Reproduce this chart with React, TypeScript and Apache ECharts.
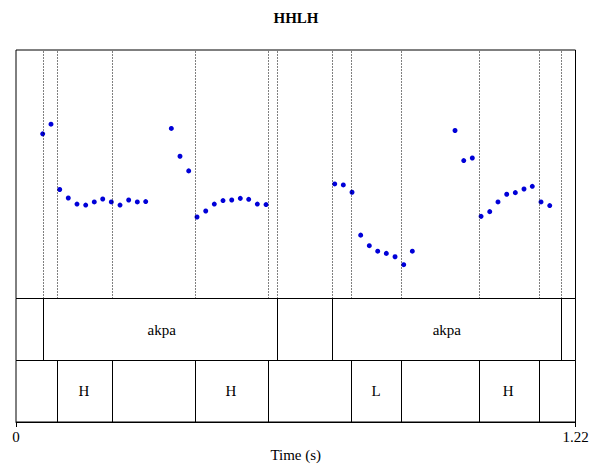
import React, { useEffect, useRef } from "react";
import * as echarts from "echarts";

const chartTitle = "HHLH";
const xMin = 0;
const xMax = 1.22;
const xAxisName = "Time (s)";
const tickValues = [0, 1.22];

const pitchTimes = [
  0.0582, 0.0763, 0.0953, 0.114, 0.133, 0.152, 0.1707, 0.1891, 0.2078, 0.2268, 0.2457, 0.2645, 0.2828,
  0.3387, 0.3576, 0.3766, 0.3947, 0.4137, 0.4324, 0.4514, 0.4704, 0.4891, 0.5074, 0.5262, 0.5452,
  0.695, 0.7137, 0.7327, 0.7516, 0.7704, 0.7887, 0.8075, 0.8265, 0.8454, 0.8642,
  0.9573, 0.9763, 0.995, 1.0141, 1.033, 1.051, 1.07, 1.0888, 1.1077, 1.1258, 1.1448, 1.1638,
];
const pitchHz = [
  232.5, 240.3, 187.7, 180.9, 176.0, 175.2, 177.7, 180.1, 177.7, 175.2, 179.3, 177.7, 178.0,
  236.9, 214.5, 202.7, 165.6, 170.4, 176.0, 178.8, 179.3, 180.6, 179.8, 176.0, 175.6,
  192.2, 191.4, 185.5, 151.0, 142.5, 138.1, 136.3, 133.6, 127.2, 138.1,
  235.2, 211.0, 213.1, 166.1, 169.9, 177.7, 183.9, 185.2, 188.1, 190.3, 177.7, 174.8,
];
const pitchMin = 100;
const pitchMax = 300;

const wordBounds = [0, 0.064, 0.5715, 0.6917, 1.187, 1.22];
const wordLabels = ["", "akpa", "", "akpa", ""];
const toneBounds = [0, 0.0903, 0.2063, 0.3914, 0.546, 0.7329, 0.8373, 1.0052, 1.1408, 1.22];
const toneLabels = ["", "H", "", "H", "", "L", "", "H", ""];

export default function App() {
  const ref = useRef<HTMLDivElement>(null);
  useEffect(() => {
    const chart = echarts.init(ref.current!, null, { renderer: "svg" });
    const font = "'Liberation Serif', 'Times New Roman', serif";
    const inner = (b: number[]) => b.slice(1, -1);
    const allBounds = Array.from(new Set([...inner(wordBounds), ...inner(toneBounds)])).sort((a, b) => a - b);
    const centers = (b: number[], labels: string[]) =>
      labels
        .map((l, i) => [(b[i] + b[i + 1]) / 2, 0.5, l])
        .filter((d) => d[2] !== "");
    const L = 16;
    const R = 16.5;
    const grid = [
      { left: L, right: R, top: 50, height: 248.5 },
      { left: L, right: R, top: 298.5, height: 62 },
      { left: L, right: R, top: 360.5, height: 61.5 },
    ].map((g) => ({ ...g, show: true, borderColor: "#000", borderWidth: 1, backgroundColor: "transparent" }));

    const xAxis = [0, 1, 2].map((i) => ({
      gridIndex: i,
      type: "value",
      min: xMin,
      max: xMax,
      show: i === 2,
      splitLine: { show: false },
      axisLine: { show: true, lineStyle: { color: "#000", width: 1 } },
      axisTick: { show: true, customValues: tickValues, length: 5, lineStyle: { color: "#000" } },
      axisLabel: {
        show: true,
        customValues: tickValues,
        margin: 7,
        color: "#000",
        fontFamily: font,
        fontSize: 15,
        formatter: (v: number) => String(v),
      },
      name: i === 2 ? xAxisName : "",
      nameLocation: "middle",
      nameGap: 25,
      nameMoveOverlap: false,
      nameTextStyle: { color: "#000", fontFamily: font, fontSize: 15 },
    }));
    const yAxis = [0, 1, 2].map((i) => ({
      gridIndex: i,
      type: "value",
      min: i === 0 ? pitchMin : 0,
      max: i === 0 ? pitchMax : 1,
      show: false,
      splitLine: { show: false },
    }));

    const tierSeries = (idx: number, bounds: number[], labels: string[]) => ({
      type: "scatter",
      xAxisIndex: idx,
      yAxisIndex: idx,
      data: centers(bounds, labels),
      symbolSize: 1,
      itemStyle: { color: "#fff", opacity: 0 },
      label: {
        show: true,
        position: "top",
        distance: -8,
        formatter: (p: any) => p.data[2],
        color: "#000",
        opacity: 1,
        textBorderWidth: 0,
        fontFamily: font,
        fontSize: 15,
        fontWeight: "normal",
      },
      silent: true,
      markLine: {
        silent: true,
        symbol: ["none", "none"],
        label: { show: false },
        lineStyle: { type: "solid", color: "#000", width: 1, opacity: 1 },
        data: inner(bounds).map((x) => ({ xAxis: x })),
      },
    });

    chart.setOption({
      animation: false,
      backgroundColor: "#fff",
      title: {
        text: chartTitle,
        left: "center",
        top: 5,
        textStyle: { fontFamily: font, fontSize: 15, fontWeight: "bold", color: "#000" },
      },
      grid,
      xAxis,
      yAxis,
      series: [
        {
          type: "scatter",
          xAxisIndex: 0,
          yAxisIndex: 0,
          data: pitchTimes.map((t, i) => [t, pitchHz[i]]),
          symbolSize: 5,
          itemStyle: { color: "#0000d8", opacity: 1 },
          silent: true,
          markLine: {
            silent: true,
            symbol: ["none", "none"],
            label: { show: false },
            lineStyle: { type: [1, 2], color: "#000", width: 1, opacity: 1 },
            data: allBounds.map((x) => ({ xAxis: x })),
          },
        },
        tierSeries(1, wordBounds, wordLabels),
        tierSeries(2, toneBounds, toneLabels),
      ],
    });
    return () => chart.dispose();
  }, []);
  return <div ref={ref} style={{ position: "fixed", left: 0, top: 0, width: 592, height: 468 }} />;
}
